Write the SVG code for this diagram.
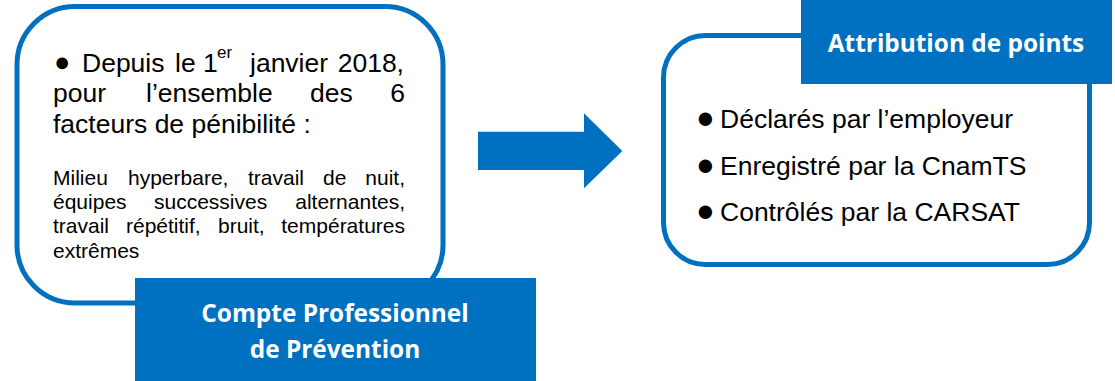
<svg xmlns="http://www.w3.org/2000/svg" width="1115" height="381" viewBox="0 0 1115 381">
<style>
.box{fill:#fff;stroke:#0070C0;stroke-width:5}
.lbl{fill:#0070C0}
.t{font-family:"Liberation Sans",Arial,sans-serif;fill:#000}
.big{font-size:26.5px}
.sm{font-size:21px}
.bul{font-size:27px}
.bul2{font-size:31px}
.w{font-family:"Open Sans","Noto Sans",sans-serif;font-weight:bold;fill:#fff;font-size:24.4px;text-anchor:middle}
</style>
<rect width="1115" height="381" fill="#fff"/>
<g id="node-cpp">
<rect class="box" x="17" y="6.5" width="426" height="296.5" rx="58" ry="58"/>
<text class="t bul" x="54" y="71">●</text>
<text class="t big" y="72"><tspan x="82">Depuis</tspan><tspan x="175">le</tspan><tspan x="203">1</tspan></text>
<text class="t" style="font-size:17px" x="217" y="58">er</text>
<text class="t big" y="72"><tspan x="250">janvier</tspan><tspan x="404" text-anchor="end">2018,</tspan></text>
<text class="t big" y="102"><tspan x="53">pour</tspan><tspan x="146">l’ensemble</tspan><tspan x="310">des</tspan><tspan x="405" text-anchor="end">6</tspan></text>
<text class="t big" x="53" y="133">facteurs de pénibilité :</text>
<text class="t sm" y="185"><tspan x="53">Milieu</tspan><tspan x="128">hyperbare,</tspan><tspan x="248">travail</tspan><tspan x="323">de</tspan><tspan x="405" text-anchor="end">nuit,</tspan></text>
<text class="t sm" y="209"><tspan x="53">équipes</tspan><tspan x="154">successives</tspan><tspan x="405" text-anchor="end">alternantes,</tspan></text>
<text class="t sm" y="233"><tspan x="53">travail</tspan><tspan x="126">répétitif,</tspan><tspan x="218">bruit,</tspan><tspan x="405" text-anchor="end">températures</tspan></text>
<text class="t sm" x="53" y="258">extrêmes</text>
<rect class="lbl" x="135" y="278" width="401" height="103"/>
<text class="w" x="335" y="322">Compte Professionnel</text>
<text class="w" x="335" y="358">de Prévention</text>
</g>
<g id="connectors">
<polygon fill="#0070C0" points="478,131.7 584,131.7 584,113.3 622.3,151 584,188.3 584,170 478,170"/>
</g>
<g id="node-points">
<rect class="box" x="663.5" y="35.5" width="426" height="229" rx="42" ry="42"/>
<rect class="lbl" x="801" y="0" width="311" height="84"/>
<text class="w" x="956" y="52">Attribution de points</text>
<text class="t bul2" x="696" y="128">●</text>
<text class="t big" x="720" y="128">Déclarés par l’employeur</text>
<text class="t bul2" x="696" y="175">●</text>
<text class="t big" x="720" y="175">Enregistré par la CnamTS</text>
<text class="t bul2" x="696" y="221">●</text>
<text class="t big" x="720" y="221">Contrôlés par la CARSAT</text>
</g>
</svg>
